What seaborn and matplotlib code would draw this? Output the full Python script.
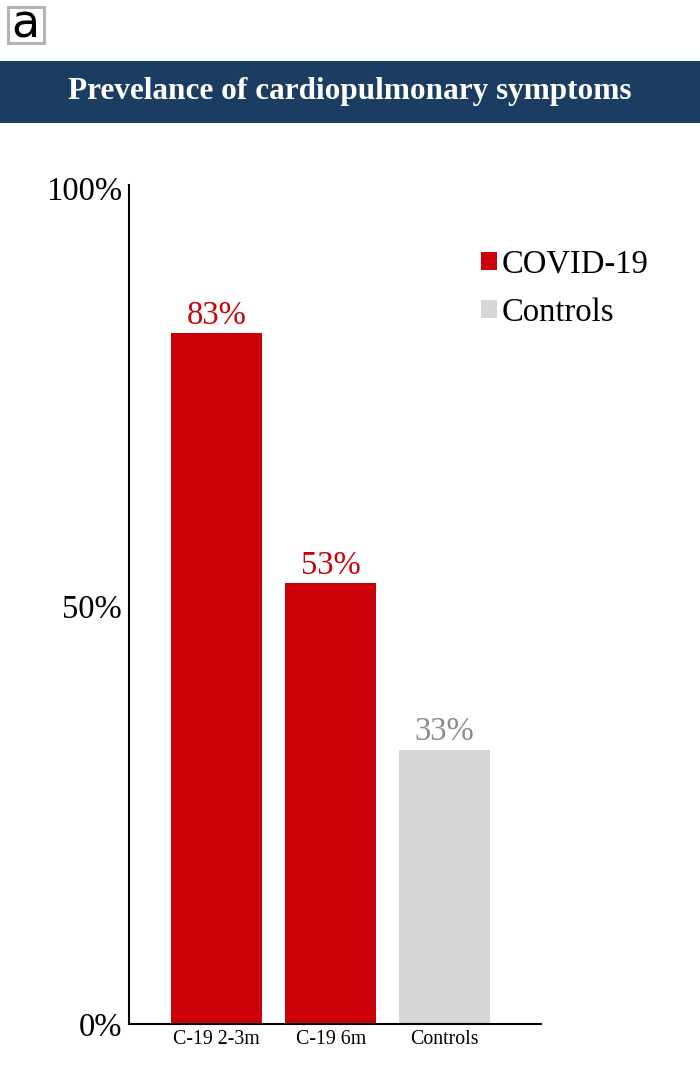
import matplotlib
matplotlib.use("Agg")
import matplotlib.pyplot as plt
import seaborn as sns
import pandas as pd
from matplotlib.patches import Patch, Rectangle

categories = ["C-19 2-3m", "C-19 6m", "Controls"]
values = [82.6, 52.7, 32.8]
labels = ["83%", "53%", "33%"]
groups = ["COVID-19", "COVID-19", "Controls"]
yticks = [0, 50, 100]
yticklabels = ["0%", "50%", "100%"]
palette = {"COVID-19": "#CC0009", "Controls": "#D6D6D6"}
label_colors = {"COVID-19": "#CC0009", "Controls": "#8C8C8C"}

sns.set_theme(style="white")
plt.rcParams["font.family"] = ["Liberation Serif", "DejaVu Serif"]

df = pd.DataFrame({"cat": categories, "val": values, "grp": groups})

fig = plt.figure(figsize=(7, 10.83), dpi=100)
ax = fig.add_axes([129/700, 59/1083, 412/700, 839/1083])
sns.barplot(data=df, x="cat", y="val", hue="grp", dodge=False, palette=palette,
            width=0.8, ax=ax, legend=False, saturation=1, linewidth=0)
ax.set_xlim(-0.77, 2.845)
ax.set_ylim(0, 100.36)
ax.set_yticks(yticks)
ax.set_yticklabels(yticklabels, fontsize=23.5)
ax.tick_params(axis="x", labelsize=14.3, length=0, pad=4)
ax.tick_params(axis="y", length=0, pad=5)
ax.set_xlabel("")
ax.set_ylabel("")
for s in ["top", "right"]:
    ax.spines[s].set_visible(False)
for s in ["left", "bottom"]:
    ax.spines[s].set_color("black")
    ax.spines[s].set_linewidth(1.5)
for lab in ax.get_yticklabels():
    lab.set_color("black")
for lab in ax.get_xticklabels():
    lab.set_color("black")

for i, (v, l, g) in enumerate(zip(values, labels, groups)):
    ax.text(i, v + 0.3, l, ha="center", va="bottom", fontsize=23.5, color=label_colors[g])

handles = [Patch(facecolor=palette["COVID-19"], edgecolor="none"),
           Patch(facecolor=palette["Controls"], edgecolor="none")]
leg = fig.legend(handles, ["COVID-19", "Controls"], loc="upper left",
                 bbox_to_anchor=(481/700, 1 - 249/1083), frameon=False, fontsize=23.5,
                 handlelength=0.48, handleheight=0.48, handletextpad=0.15, labelspacing=0.55,
                 borderaxespad=0, borderpad=0, labelcolor="black")

# title band
fig.patches.append(Rectangle((0, 1 - 123/1083), 1, 62/1083, transform=fig.transFigure,
                             facecolor="#1B3D62", edgecolor="none", zorder=0))
fig.text(0.5, 1 - 92/1083, "Prevelance of cardiopulmonary symptoms", ha="center", va="center",
         color="white", fontsize=22.5, fontweight="bold")

# panel label
fig.patches.append(Rectangle((8/700, 1 - 43/1083), 36/700, 36/1083, transform=fig.transFigure,
                             facecolor="white", edgecolor="#B4B4B4", linewidth=2.2))
fig.text(25.5/700, 1 - 37/1083, "a", ha="center", va="baseline", fontsize=33,
         family="DejaVu Sans", color="black")

fig.savefig("out.png", dpi=100)
